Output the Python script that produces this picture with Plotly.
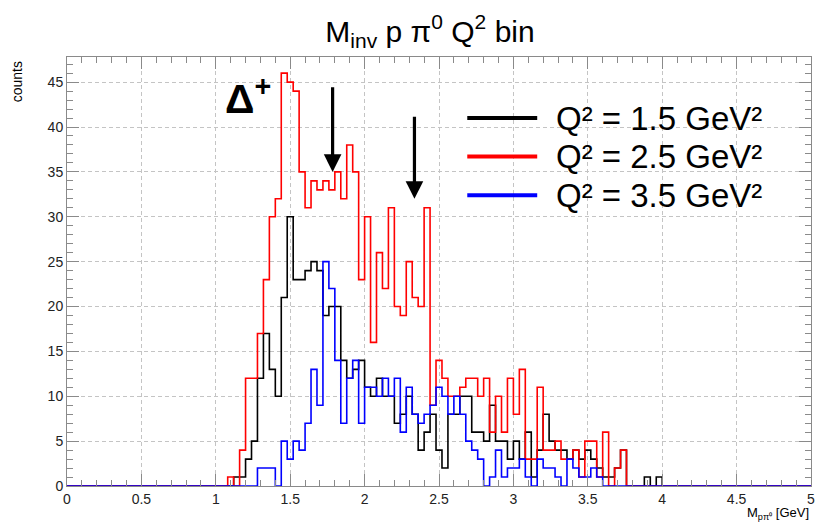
import plotly.graph_objects as go

# ---------------- data ----------------
bin_width = 0.04
n_bins = 125
bin_edges = [round(i * bin_width, 2) for i in range(n_bins + 1)]

series_names = ["Q² = 1.5 GeV²", "Q² = 2.5 GeV²", "Q² = 3.5 GeV²"]

counts_q2_15 = [
    0, 0, 0, 0, 0, 0, 0, 0, 0, 0,
    0, 0, 0, 0, 0, 0, 0, 0, 0, 0,
    0, 0, 0, 0, 0, 0, 0, 0, 1, 1,
    3, 5, 12, 17, 13, 10, 21, 30, 23, 23,
    24, 25, 24, 19, 20, 20, 14, 12, 13, 14,
    11, 10, 12, 10, 10, 7, 8, 10, 8, 4,
    6, 8, 4, 2, 8, 8, 10, 10, 6, 6,
    5, 9, 5, 5, 3, 5, 3, 6, 1, 4,
    8, 5, 4, 4, 3, 4, 3, 4, 3, 2,
    1, 1, 2, 4, 0, 0, 0, 1, 0, 1,
    0, 0, 0, 0, 0, 0, 0, 0, 0, 0,
    0, 0, 0, 0, 0, 0, 0, 0, 0, 0,
    0, 0, 0, 0, 0,
]

counts_q2_25 = [
    0, 0, 0, 0, 0, 0, 0, 0, 0, 0,
    0, 0, 0, 0, 0, 0, 0, 0, 0, 0,
    0, 0, 0, 0, 0, 0, 0, 1, 0, 4,
    12, 12, 17, 23, 30, 32, 46, 45, 44, 35,
    31, 34, 33, 34, 33, 35, 32, 38, 35, 23,
    30, 16, 26, 22, 31, 20, 19, 25, 21, 20,
    31, 9, 14, 12, 10, 10, 11, 12, 12, 10,
    12, 6, 10, 6, 12, 8, 13, 3, 3, 11,
    4, 4, 5, 3, 3, 4, 1, 5, 5, 1,
    6, 0, 2, 4, 0, 0, 0, 0, 0, 0,
    0, 0, 0, 0, 0, 0, 0, 0, 0, 0,
    0, 0, 0, 0, 0, 0, 0, 0, 0, 0,
    0, 0, 0, 0, 0,
]

counts_q2_35 = [
    0, 0, 0, 0, 0, 0, 0, 0, 0, 0,
    0, 0, 0, 0, 0, 0, 0, 0, 0, 0,
    0, 0, 0, 0, 0, 0, 0, 0, 0, 0,
    0, 0, 2, 2, 2, 0, 5, 3, 5, 4,
    7, 13, 9, 25, 22, 14, 7, 12, 14, 7,
    11, 11, 10, 12, 10, 12, 6, 11, 8, 7,
    8, 9, 11, 10, 8, 10, 8, 5, 4, 3,
    0, 1, 4, 1, 2, 2, 3, 1, 0, 3,
    2, 2, 1, 0, 3, 2, 1, 1, 2, 1,
    0, 0, 0, 0, 0, 0, 0, 0, 0, 0,
    0, 0, 0, 0, 0, 0, 0, 0, 0, 0,
    0, 0, 0, 0, 0, 0, 0, 0, 0, 0,
    0, 0, 0, 0, 0,
]

series_counts = [counts_q2_15, counts_q2_25, counts_q2_35]
series_colors = ["#000000", "#ff0000", "#0000ff"]

x_tick_vals = [0, 0.5, 1, 1.5, 2, 2.5, 3, 3.5, 4, 4.5, 5]
x_tick_text = ["0", "0.5", "1", "1.5", "2", "2.5", "3", "3.5", "4", "4.5", "5"]
y_tick_vals = [0, 5, 10, 15, 20, 25, 30, 35, 40, 45]

# ---------------- figure ----------------
FONT = "Liberation Sans, Arial, Helvetica, sans-serif"
fig = go.Figure()

for name, counts, color in zip(series_names, series_counts, series_colors):
    fig.add_trace(go.Scatter(
        x=bin_edges,
        y=counts + [counts[-1]],
        mode="lines",
        line=dict(color=color, width=1.6, shape="hv"),
        name=name,
        showlegend=False,
        hoverinfo="skip",
    ))

axis_common = dict(
    showline=True, linecolor="#8a8a8a", linewidth=1, mirror="allticks",
    ticks="inside", ticklen=12, tickcolor="#8a8a8a", tickwidth=1,
    showgrid=True, gridcolor="#c4c4c4", griddash="4px,3px", gridwidth=1,
    zeroline=False, ticklabeloverflow="allow",
    tickfont=dict(family=FONT, size=14, color="#222222"),
)

fig.update_xaxes(
    range=[0, 5], tickmode="array", tickvals=x_tick_vals, ticktext=x_tick_text,
    minor=dict(ticks="inside", ticklen=6, tickcolor="#8a8a8a", dtick=0.1, showgrid=False),
    **axis_common,
)
fig.update_yaxes(
    range=[0, 47.8], tickmode="array", tickvals=y_tick_vals,
    minor=dict(ticks="inside", ticklen=6, tickcolor="#8a8a8a", dtick=1, showgrid=False),
    **axis_common,
)

# manual legend (long thick line samples as in the ROOT legend)
legend_rows_y = [41.0, 36.7, 32.4]
shapes = []
annotations = []
for name, color, ly in zip(series_names, series_colors, legend_rows_y):
    shapes.append(dict(type="line", xref="x", yref="y", x0=2.69, x1=3.16, y0=ly, y1=ly,
                       line=dict(color=color, width=4)))
    annotations.append(dict(xref="x", yref="y", x=3.27, y=ly, text=name, showarrow=False,
                            xanchor="left", yanchor="middle",
                            font=dict(family=FONT, size=33, color="#000000")))

# Delta+ label and arrows
annotations.append(dict(xref="x", yref="y", x=1.215, y=43.4, text="<b>Δ<sup>+</sup></b>",
                        showarrow=False, font=dict(family=FONT, size=41, color="#000000")))
for ax_x, tip_y, tail_y in [(1.785, 35.0, 44.6), (2.335, 32.0, 41.3)]:
    annotations.append(dict(xref="x", yref="y", axref="x", ayref="y",
                            x=ax_x, y=tip_y, ax=ax_x, ay=tail_y, text="",
                            showarrow=True, arrowhead=2, arrowsize=1.1, arrowwidth=3.2,
                            arrowcolor="#000000"))

# axis titles
annotations.append(dict(xref="paper", yref="paper", x=-0.068, y=0.942, text="counts",
                        textangle=-90, showarrow=False, xanchor="center", yanchor="middle",
                        font=dict(family=FONT, size=14, color="#000000")))
annotations.append(dict(xref="paper", yref="paper", x=1.0, y=-0.088,
                        text="M<sub>pπ⁰</sub> [GeV]", showarrow=False,
                        xanchor="right", yanchor="bottom",
                        font=dict(family=FONT, size=13, color="#000000")))

fig.update_layout(
    width=819, height=524,
    margin=dict(l=67, r=4, t=57, b=38),
    paper_bgcolor="white", plot_bgcolor="white",
    title=dict(text="M<sub>inv</sub> p π<sup>0</sup> Q<sup>2</sup> bin",
               x=430 / 819, xanchor="center", xref="container",
               y=1 - 31 / 524, yanchor="middle", yref="container",
               font=dict(family=FONT, size=30, color="#000000")),
    shapes=shapes,
    annotations=annotations,
    showlegend=False,
)

fig.write_html("out.html")
